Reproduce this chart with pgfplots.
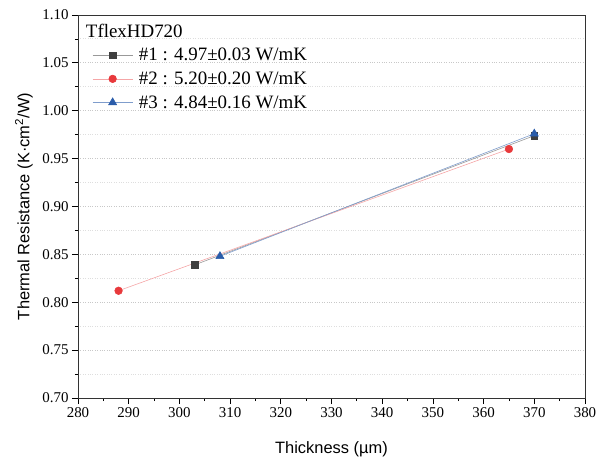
\documentclass[border=0pt]{standalone}
\usepackage{pgfplots}
\pgfplotsset{compat=1.18}
\usetikzlibrary{calc}
\usepackage{fontspec}
\setmainfont{Liberation Serif}
\setsansfont{Liberation Sans}
\definecolor{sergrey}{HTML}{3F3F3F}
\definecolor{serred}{HTML}{E8393C}
\definecolor{serblue}{HTML}{2A5CAA}
\definecolor{gridgrey}{HTML}{C8C8C8}

\begin{document}
\begin{tikzpicture}
\begin{axis}[
  scale only axis,
  width=507bp, height=383bp,
  xmin=280, xmax=380, ymin=0.70, ymax=1.10,
  xtick={280,290,...,380},
  ytick={0.70,0.75,...,1.10},
  minor x tick num=1, minor y tick num=1,
  tick pos=left, tick align=outside,
  major tick length=6bp, minor tick length=3bp,
  every tick/.style={black, line width=0.8pt},
  axis line style={line width=0.9pt, black!80},
  ymajorgrids, yminorgrids,
  major grid style={gridgrey, dotted, line width=0.9pt},
  minor grid style={gridgrey!60, dotted, line width=0.9pt},
  /pgf/number format/assume math mode=true,
  xticklabel={\pgfmathprintnumber{\tick}},
  yticklabel={\pgfmathprintnumber[fixed,fixed zerofill,precision=2]{\tick}},
  tick label style={font=\rmfamily\fontsize{15}{17}\selectfont},
  xlabel={Thickness (µm)},
  ylabel={Thermal Resistance (K·cm\textsuperscript{2}/W)},
  every axis x label/.style={at={(axis description cs:0.5,0)}, yshift=-51bp, anchor=center,
    font=\sffamily\fontsize{16.5}{19}\selectfont},
  every axis y label/.style={at={(axis description cs:0,0.5)}, xshift=-54bp, rotate=90, anchor=center,
    font=\sffamily\fontsize{16.5}{19}\selectfont},
  legend style={at={(0.022,0.985)}, anchor=north west, draw=none, fill=none,
    font=\rmfamily\fontsize{19}{22}\selectfont, row sep=7.5bp,
    legend cell align=left, nodes={inner sep=1bp}},
  legend image code/.code={
    \draw[mark repeat=2, mark phase=2, #1] plot coordinates {(0bp,0bp) (20bp,0bp) (40bp,0bp)};},
]
\addlegendimage{empty legend}
\addlegendentry{\hspace{-48bp}TflexHD720}
\addplot[black!40, line width=0.6pt, mark=square*, mark size=3.4pt,
  mark options={sergrey, fill=sergrey}] coordinates {(303,0.839) (370,0.974)};
\addlegendentry{\hspace{5bp}\#1 : 4.97±0.03 W/mK}
\addplot[serred!45, line width=0.6pt, mark=*, mark size=3.8pt,
  mark options={serred, fill=serred}] coordinates {(288,0.812) (365,0.960)};
\addlegendentry{\hspace{5bp}\#2 : 5.20±0.20 W/mK}
\addplot[serblue!60, line width=0.6pt, mark=triangle*, mark size=4.6pt,
  mark options={serblue, fill=serblue}] coordinates {(308,0.848) (370,0.976)};
\addlegendentry{\hspace{5bp}\#3 : 4.84±0.16 W/mK}
\end{axis}
\useasboundingbox ($(current axis.south west)+(-78bp,-65bp)$) rectangle ($(current axis.north east)+(17bp,15bp)$);
\end{tikzpicture}
\end{document}
